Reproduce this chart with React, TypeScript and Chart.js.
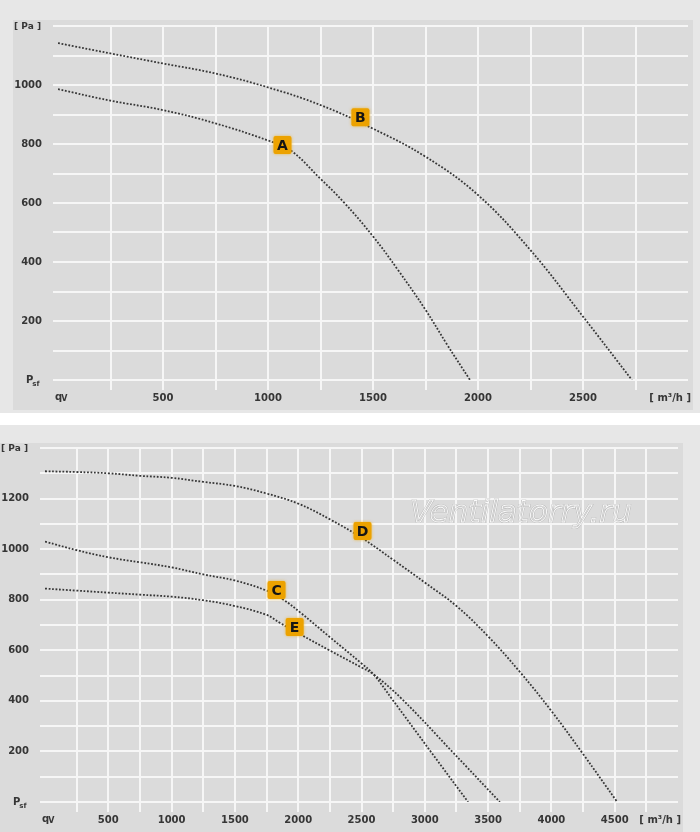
import { useEffect, useRef } from 'react';
import { Chart, registerables } from 'chart.js';
import type { ChartConfiguration, Plugin } from 'chart.js';

Chart.register(...registerables);

// upper diagram: curves A and B  (flow m³/h, pressure Pa)
const flowA = [0, 250, 500, 750, 1000, 1105, 1250, 1359, 1500, 1620, 1750, 1851, 1962];
const pressA = [986, 947, 915, 870, 812, 780, 682, 604, 487, 372, 238, 122, 0];
const flowB = [0, 250, 500, 750, 1000, 1250, 1500, 1750, 2000, 2250, 2500, 2733];
const pressB = [1142, 1107, 1073, 1039, 992, 932, 852, 757, 627, 440, 215, 0];

// lower diagram: curves C, D and E
const flowC = [0, 250, 500, 750, 1000, 1250, 1500, 1750, 1883, 2015, 2250, 2500, 2595, 2740, 3046, 3342];
const pressC = [1030, 996, 968, 948, 928, 900, 876, 836, 800, 750, 652, 548, 505, 408, 200, 0];
const flowD = [0, 250, 500, 750, 1000, 1250, 1500, 1750, 2000, 2250, 2500, 2750, 3000, 3250, 3500, 3750, 4000, 4250, 4520];
const pressD = [1308, 1305, 1300, 1290, 1282, 1266, 1250, 1220, 1180, 1118, 1045, 958, 868, 775, 655, 515, 360, 190, 0];
const flowE = [0, 250, 500, 750, 1000, 1250, 1500, 1750, 1857, 2028, 2250, 2500, 2595, 2818, 3215, 3593];
const pressE = [844, 836, 828, 820, 812, 798, 775, 740, 708, 660, 599, 532, 505, 408, 200, 0];

// curve tags
const tagNamesTop = ['A', 'B'];
const tagFlowTop = [1069, 1440];
const tagPressTop = [797, 891];
const tagNamesBottom = ['C', 'D', 'E'];
const tagFlowBottom = [1829, 2508, 1972];
const tagPressBottom = [838, 1072, 692];

// axes
const topFlowMax = 3000;
const topPressMax = 1200;
const bottomFlowMax = 5000;
const bottomPressMax = 1400;
const flowUnit = '[ m³/h ]';
const pressUnit = '[ Pa ]';

const FONT = 'DejaVu Sans';
const TEXT = '#363636';
const GRID = '#f6f6f6';

interface Curve {
  flow: number[];
  press: number[];
}

interface CurveChartProps {
  width: number;
  height: number;
  flowMax: number;
  pressMax: number;
  curves: Curve[];
  tagNames: string[];
  tagFlow: number[];
  tagPress: number[];
  padTop: number;
  watermark?: string;
}

function CurveChart(props: CurveChartProps) {
  const canvasRef = useRef<HTMLCanvasElement>(null);

  useEffect(() => {
    if (!canvasRef.current) return;
    const { flowMax, pressMax, curves, tagNames, tagFlow, tagPress, padTop, watermark } = props;

    const overlay: Plugin<'line'> = {
      id: 'overlay',
      afterDraw(chart) {
        const { ctx, chartArea, scales } = chart;
        const x = scales.x;
        const y = scales.y;
        ctx.save();

        if (watermark) {
          ctx.font = `italic 31px "${FONT}"`;
          ctx.textAlign = 'center';
          ctx.textBaseline = 'middle';
          const wx = x.getPixelForValue(3760);
          const wy = y.getPixelForValue(1140);
          ctx.fillStyle = 'rgba(255,255,255,0.08)';
          ctx.fillText(watermark, wx, wy);
          ctx.lineWidth = 1.7;
          ctx.strokeStyle = 'rgba(140,140,140,0.55)';
          ctx.strokeText(watermark, wx, wy);
          ctx.lineWidth = 0.9;
          ctx.strokeStyle = '#fbfbfb';
          ctx.strokeText(watermark, wx, wy);
        }

        // orange curve tags
        tagNames.forEach((name, i) => {
          const cx = x.getPixelForValue(tagFlow[i]);
          const cy = y.getPixelForValue(tagPress[i]);
          const s = 18;
          ctx.shadowColor = 'rgba(240,170,0,0.7)';
          ctx.shadowBlur = 3;
          ctx.fillStyle = '#eca200';
          ctx.beginPath();
          ctx.roundRect(cx - s / 2, cy - s / 2, s, s, 2);
          ctx.fill();
          ctx.shadowBlur = 0;
          ctx.fillStyle = '#151515';
          ctx.font = `bold 14px "${FONT}"`;
          ctx.textAlign = 'center';
          ctx.textBaseline = 'middle';
          ctx.fillText(name, cx, cy + 1);
        });

        // axis captions
        ctx.fillStyle = TEXT;
        ctx.textBaseline = 'middle';
        ctx.textAlign = 'right';
        ctx.font = `bold 9px "${FONT}"`;
        ctx.fillText(pressUnit, chartArea.left - 17, y.getPixelForValue(pressMax) + 1);

        const rowY = chartArea.bottom + 18;
        ctx.font = `bold 10px "${FONT}"`;
        ctx.fillText(flowUnit, chartArea.right + 3, rowY);

        ctx.textAlign = 'left';
        const py = y.getPixelForValue(0);
        const px = chartArea.left - 32;
        ctx.font = `bold 10px "${FONT}"`;
        ctx.fillText('P', px, py);
        const pw = ctx.measureText('P').width;
        ctx.font = `bold 7px "${FONT}"`;
        ctx.fillText('sf', px + pw - 1, py + 4);

        const qx = chartArea.left - 3;
        ctx.font = `bold 10px "${FONT}"`;
        ctx.fillText('q', qx, rowY - 1);
        const qw = ctx.measureText('q').width;
        ctx.font = `bold 8px "${FONT}"`;
        ctx.fillText('V', qx + qw - 1, rowY + 1);

        ctx.restore();
      },
    };

    const tickFont = { family: FONT, weight: 'bold' as const, size: 10 };

    const config: ChartConfiguration<'line'> = {
      type: 'line',
      data: {
        datasets: curves.map((c) => ({
          data: c.flow.map((f, i) => ({ x: f, y: c.press[i] })),
          borderColor: '#363636',
          borderWidth: 1.8,
          borderDash: [1.8, 1.7],
          pointRadius: 0,
          fill: false,
          tension: 0.4,
        })),
      },
      options: {
        responsive: false,
        animation: false,
        events: [],
        layout: { padding: { top: padTop, right: 5, left: 0, bottom: 0 } },
        plugins: {
          legend: { display: false },
          tooltip: { enabled: false },
        },
        scales: {
          x: {
            type: 'linear',
            min: 0,
            max: flowMax,
            border: { display: false },
            grid: {
              color: (ctx) =>
                ctx.tick && (ctx.tick.value === 0 || ctx.tick.value === flowMax) ? 'rgba(0,0,0,0)' : GRID,
              lineWidth: 2,
              tickLength: 10,
            },
            ticks: {
              stepSize: 250,
              maxTicksLimit: 100,
              autoSkip: false,
              maxRotation: 0,
              padding: 2,
              color: TEXT,
              font: tickFont,
              callback: (v) => {
                const n = Number(v);
                return n % 500 === 0 && n > 0 && n < flowMax ? String(n) : '';
              },
            },
            afterFit: (s) => {
              s.height = 30;
              s.paddingLeft = 0;
              s.paddingRight = 0;
            },
          },
          y: {
            type: 'linear',
            min: 0,
            max: pressMax,
            border: { display: false },
            grid: { color: GRID, lineWidth: 2, tickLength: 5 },
            ticks: {
              stepSize: 100,
              maxTicksLimit: 100,
              autoSkip: false,
              padding: 11,
              color: TEXT,
              font: tickFont,
              callback: (v) => {
                const n = Number(v);
                return n % 200 === 0 && n > 0 && n < pressMax ? String(n) : '';
              },
            },
            afterFit: (s) => {
              s.width = 45;
              s.paddingTop = 0;
              s.paddingBottom = 0;
            },
          },
        },
      },
      plugins: [overlay],
    };

    const chart = new Chart(canvasRef.current, config);
    return () => chart.destroy();
  }, [props]);

  return (
    <canvas
      ref={canvasRef}
      width={props.width}
      height={props.height}
      style={{ width: props.width, height: props.height, display: 'block' }}
    />
  );
}

const topCurves: Curve[] = [
  { flow: flowA, press: pressA },
  { flow: flowB, press: pressB },
];
const bottomCurves: Curve[] = [
  { flow: flowC, press: pressC },
  { flow: flowD, press: pressD },
  { flow: flowE, press: pressE },
];

const topProps: CurveChartProps = {
  width: 680,
  height: 390,
  flowMax: topFlowMax,
  pressMax: topPressMax,
  curves: topCurves,
  tagNames: tagNamesTop,
  tagFlow: tagFlowTop,
  tagPress: tagPressTop,
  padTop: 6,
};

const bottomProps: CurveChartProps = {
  width: 683,
  height: 389,
  flowMax: bottomFlowMax,
  pressMax: bottomPressMax,
  curves: bottomCurves,
  tagNames: tagNamesBottom,
  tagFlow: tagFlowBottom,
  tagPress: tagPressBottom,
  padTop: 5,
  watermark: 'Ventilatorry.ru',
};

export default function App() {
  return (
    <div style={{ position: 'absolute', left: 0, top: 0, width: 700, height: 832, background: '#ffffff', overflow: 'hidden' }}>
      <div style={{ position: 'absolute', left: 0, top: 0, width: 700, height: 413, background: '#e7e7e7' }}>
        <div style={{ position: 'absolute', left: 13, top: 20, background: '#dbdbdb' }}>
          <CurveChart {...topProps} />
        </div>
      </div>
      <div style={{ position: 'absolute', left: 0, top: 425, width: 700, height: 407, background: '#e7e7e7' }}>
        <div style={{ position: 'absolute', left: 0, top: 18, background: '#dbdbdb' }}>
          <CurveChart {...bottomProps} />
        </div>
      </div>
    </div>
  );
}
